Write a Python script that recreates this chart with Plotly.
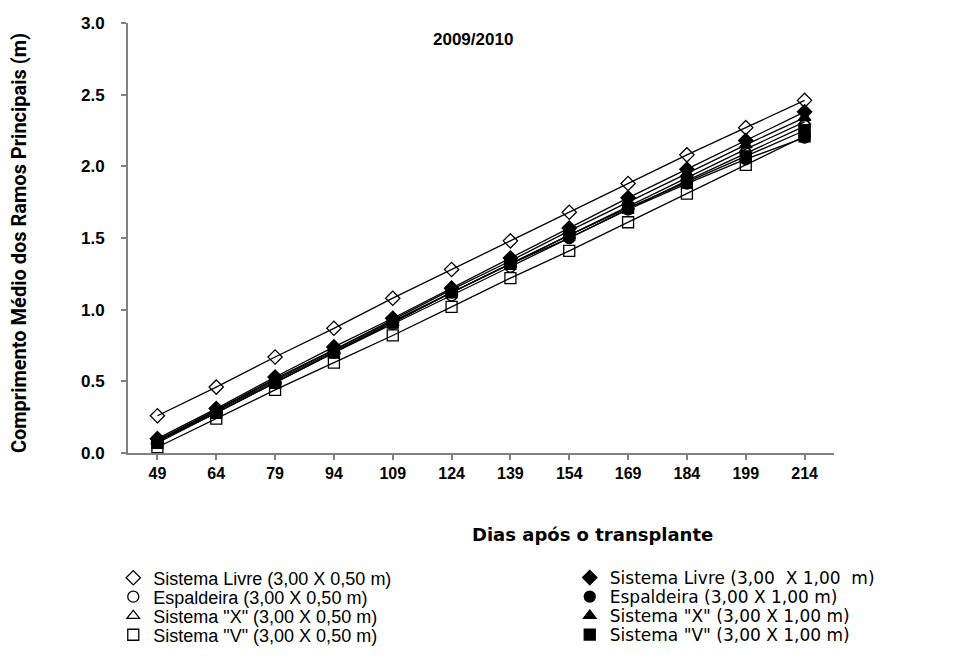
import plotly.graph_objects as go

dias = ["49", "64", "79", "94", "109", "124", "139", "154", "169", "184", "199", "214"]

livre_050 = [0.26, 0.46, 0.67, 0.87, 1.08, 1.28, 1.48, 1.68, 1.88, 2.08, 2.27, 2.46]
livre_100 = [0.10, 0.31, 0.53, 0.74, 0.94, 1.15, 1.36, 1.57, 1.78, 1.98, 2.18, 2.38]
espal_050 = [0.08, 0.28, 0.49, 0.70, 0.90, 1.10, 1.30, 1.50, 1.70, 1.90, 2.09, 2.28]
espal_100 = [0.08, 0.30, 0.52, 0.72, 0.92, 1.12, 1.32, 1.50, 1.70, 1.88, 2.05, 2.20]
x_050 = [0.08, 0.29, 0.50, 0.71, 0.91, 1.12, 1.32, 1.52, 1.72, 1.92, 2.12, 2.31]
x_100 = [0.09, 0.30, 0.51, 0.72, 0.93, 1.14, 1.34, 1.55, 1.75, 1.95, 2.15, 2.34]
v_050 = [0.04, 0.24, 0.44, 0.63, 0.82, 1.02, 1.22, 1.41, 1.61, 1.81, 2.01, 2.21]
v_100 = [0.07, 0.28, 0.49, 0.70, 0.91, 1.12, 1.32, 1.52, 1.71, 1.89, 2.07, 2.25]

series_names = [
    "Sistema Livre (3,00 X 0,50 m)",
    "Sistema Livre (3,00  X 1,00  m)",
    "Espaldeira (3,00 X 0,50 m)",
    "Espaldeira (3,00 X 1,00 m)",
    'Sistema "X" (3,00 X 0,50 m)',
    'Sistema "X" (3,00 X 1,00 m)',
    'Sistema "V" (3,00 X 0,50 m)',
    'Sistema "V" (3,00 X 1,00 m)',
]
series_values = [livre_050, livre_100, espal_050, espal_100, x_050, x_100, v_050, v_100]
symbols = ["diamond-open", "diamond", "circle-open", "circle",
           "triangle-up-open", "triangle-up", "square-open", "square"]

FONT = "Liberation Sans, Arial, sans-serif"

fig = go.Figure()
# trend lines
for name, vals in zip(series_names, series_values):
    fig.add_trace(go.Scatter(
        x=dias, y=vals, mode="lines", showlegend=False, hoverinfo="skip",
        line=dict(color="black", width=1.3),
    ))

# markers, each with its own legend box (two-column legend like the original)
row_y = [0.1350, 0.1062, 0.0774, 0.0485]
col_x = [0.110, 0.587]
col_font = [dict(size=18, family=FONT), dict(size=17, family="DejaVu Sans, sans-serif")]
legend_layouts = {}
for i, (name, vals, sym) in enumerate(zip(series_names, series_values, symbols)):
    lid = "legend" if i == 0 else f"legend{i+1}"
    fig.add_trace(go.Scatter(
        x=dias, y=vals, name=name, mode="markers", legend=lid,
        marker=dict(symbol=sym, size=11, color="black",
                    line=dict(color="black", width=1.3)),
    ))
    legend_layouts[lid] = dict(
        x=col_x[i % 2], y=row_y[i // 2], xref="container", yref="container",
        xanchor="left", yanchor="middle",
        font=dict(color="black", **col_font[i % 2]),
        itemwidth=30, bgcolor="rgba(0,0,0,0)", borderwidth=0,
    )

fig.update_layout(
    width=957, height=659,
    margin=dict(l=120, r=131, t=15, b=214, autoexpand=False),
    plot_bgcolor="white", paper_bgcolor="white",
    font=dict(family=FONT, color="black"),
    showlegend=True,
    xaxis=dict(
        type="category", range=[-0.5, 11.5],
        showline=True, linecolor="#808080", linewidth=2,
        ticks="outside", ticklen=5, tickcolor="#808080", tickwidth=2,
        tickfont=dict(size=16, family=FONT, weight="bold"),
        showgrid=False, zeroline=False,
    ),
    yaxis=dict(
        range=[0, 3], dtick=0.5, tickformat=".1f",
        showline=True, linecolor="#808080", linewidth=2,
        ticks="outside", ticklen=5, tickcolor="#808080", tickwidth=2,
        tickfont=dict(size=17, family=FONT, weight="bold"),
        ticklabelstandoff=13,
        showgrid=False, zeroline=False,
    ),
    annotations=[
        dict(text="<b>Comprimento Médio dos Ramos Principais (m)</b>",
             xref="paper", yref="paper", x=-0.1545, y=0.488, textangle=-90,
             xanchor="center", yanchor="middle", showarrow=False,
             font=dict(size=20, family="Liberation Sans Narrow, Roboto, sans-serif")),
        dict(text="<b>2009/2010</b>", xref="paper", yref="paper", x=0.488, y=0.988,
             showarrow=False, font=dict(size=17, family=FONT)),
        dict(text="<b>Dias após o transplante</b>", xref="paper", yref="paper",
             x=0.658, y=-0.218, showarrow=False,
             font=dict(size=18, family="DejaVu Sans, sans-serif")),
    ],
    **legend_layouts,
)

fig.write_html("out.html")
